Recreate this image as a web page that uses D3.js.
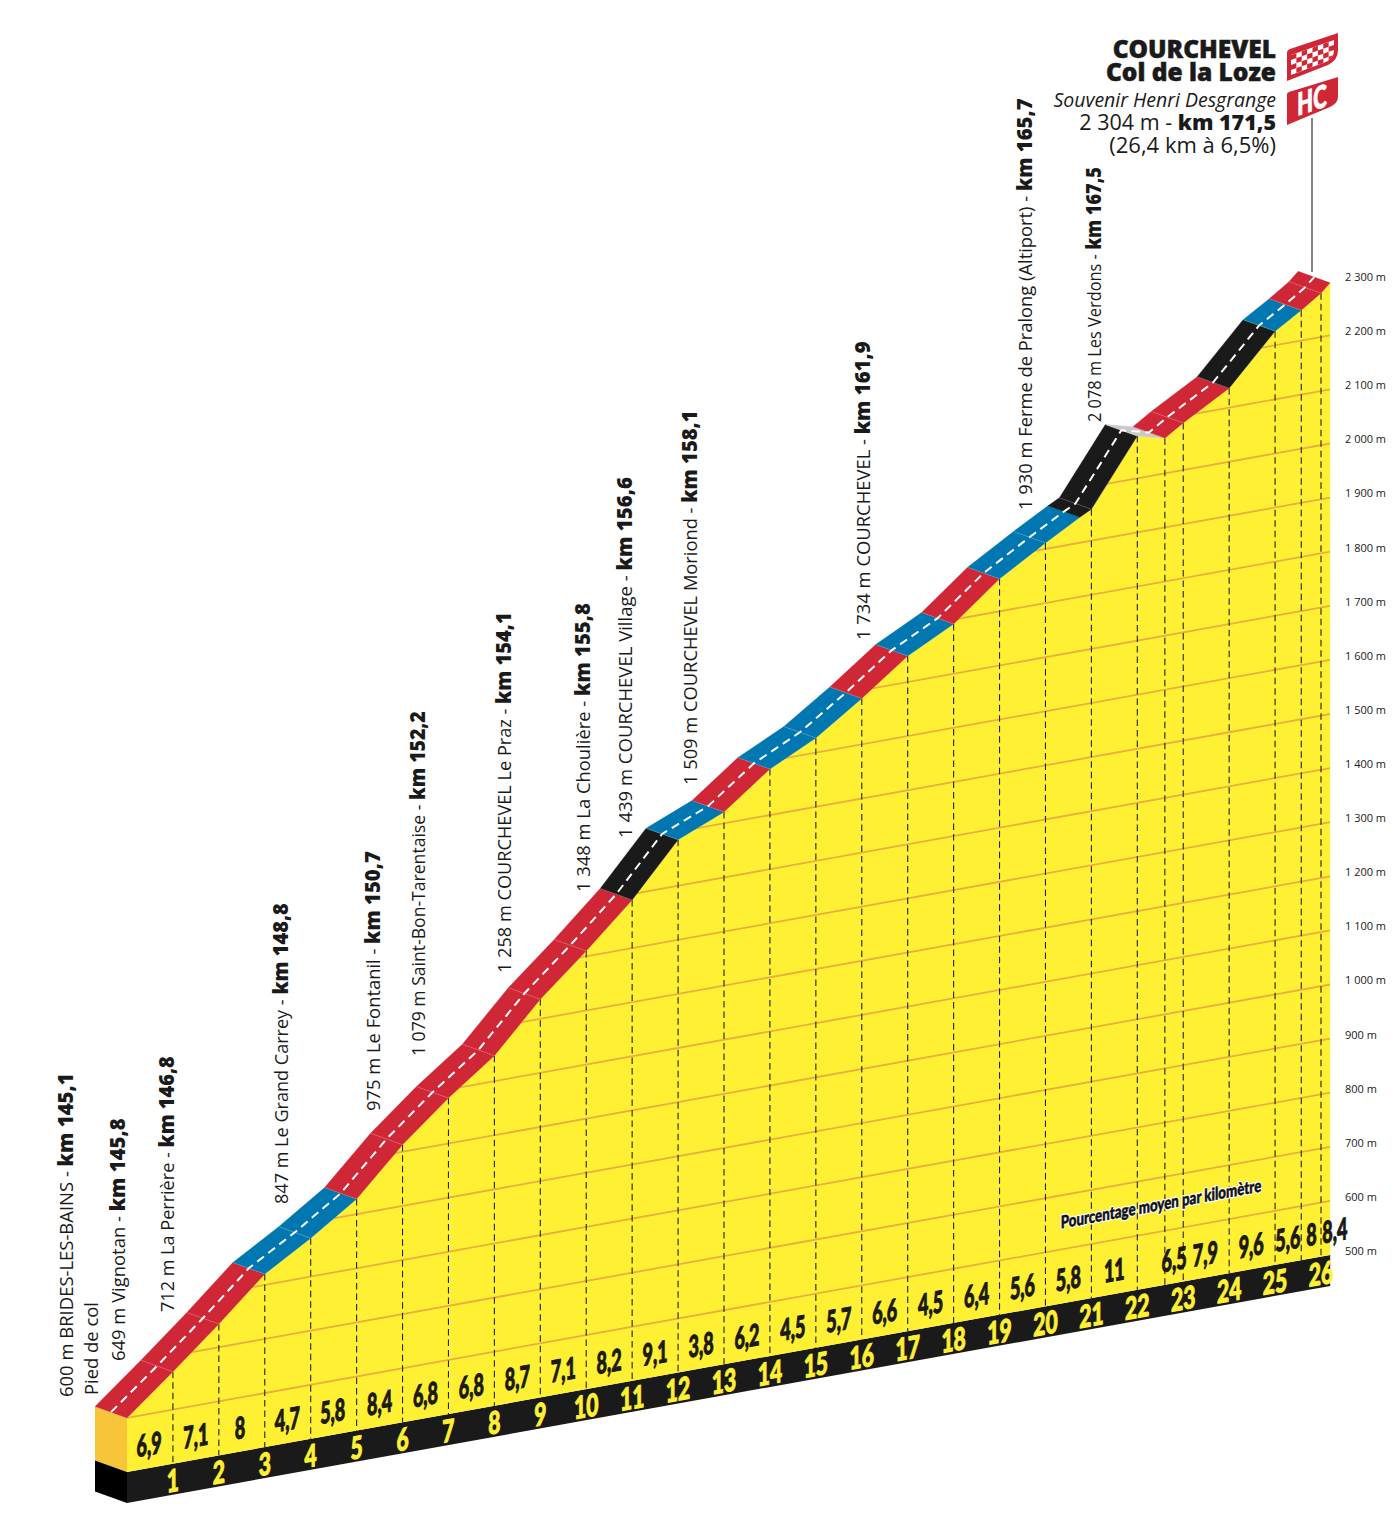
<!DOCTYPE html>
<html>
<head>
<meta charset="utf-8">
<script src="https://cdn.jsdelivr.net/npm/d3@7/dist/d3.min.js"></script>
<style>
  html, body { margin: 0; background: #fff; }
  text { font-family: "Open Sans", sans-serif; fill: #1a1a1a; white-space: pre; }
  .num { font-family: Lato, sans-serif; font-weight: 900; }
</style>
</head>
<body>
<div id="chart"></div>
<script>
// profile of the climb
var roadKm = [0, 1, 2, 3, 4, 5, 6, 7, 8, 9, 10, 11, 12, 13, 14, 15, 16, 17, 18, 19, 20, 20.75, 21, 22, 22.6, 23, 24, 25, 25.57, 26, 26.2];
var roadAlt = [600, 670, 743, 820, 871, 928, 1013, 1084, 1147, 1236, 1310, 1389, 1485, 1521, 1585, 1627, 1685, 1748, 1792, 1860, 1911, 1947, 1958, 2078, 2065, 2087, 2136, 2226, 2256, 2281, 2297];
// colour class of each stretch between two road points
var stretchClass = ['red', 'red', 'red', 'blue', 'blue', 'red', 'red', 'red', 'red', 'red', 'red', 'black', 'blue', 'red', 'blue', 'blue', 'red', 'blue', 'red', 'blue', 'blue', 'black', 'black', 'grey', 'red', 'red', 'black', 'blue', 'red', 'red'];

var kmTicks = [1, 2, 3, 4, 5, 6, 7, 8, 9, 10, 11, 12, 13, 14, 15, 16, 17, 18, 19, 20, 21, 22, 23, 24, 25, 26];
var dashKm = [1, 2, 3, 4, 5, 6, 7, 8, 9, 10, 11, 12, 13, 14, 15, 16, 17, 18, 19, 20, 21, 22, 22.6, 23, 24, 25, 25.57, 26];

var gradeKm = [0.48, 1.5, 2.46, 3.49, 4.48, 5.5, 6.5, 7.5, 8.5, 9.5, 10.5, 11.5, 12.5, 13.5, 14.5, 15.5, 16.5, 17.5, 18.5, 19.5, 20.5, 21.5, 22.8, 23.48, 24.48, 25.28, 25.79, 26.3];
var gradeText = ['6,9', '7,1', '8', '4,7', '5,8', '8,4', '6,8', '6,8', '8,7', '7,1', '8,2', '9,1', '3,8', '6,2', '4,5', '5,7', '6,6', '4,5', '6,4', '5,6', '5,8', '11', '6,5', '7,9', '9,6', '5,6', '8', '8,4'];

var altTicks = [500, 600, 700, 800, 900, 1000, 1100, 1200, 1300, 1400, 1500, 1600, 1700, 1800, 1900, 2000, 2100, 2200, 2300];
var altTickText = ['500 m', '600 m', '700 m', '800 m', '900 m', '1 000 m', '1 100 m', '1 200 m', '1 300 m', '1 400 m', '1 500 m', '1 600 m', '1 700 m', '1 800 m', '1 900 m', '2 000 m', '2 100 m', '2 200 m', '2 300 m'];

var placeText = ['600 m BRIDES-LES-BAINS - ', 'Pied de col', '649 m Vignotan - ', '712 m La Perrière - ', '847 m Le Grand Carrey - ', '975 m Le Fontanil - ', '1 079 m Saint-Bon-Tarentaise - ', '1 258 m COURCHEVEL Le Praz - ', '1 348 m La Choulière - ', '1 439 m COURCHEVEL Village - ', '1 509 m COURCHEVEL Moriond - ', '1 734 m COURCHEVEL - ', '1 930 m Ferme de Pralong (Altiport) - ', '2 078 m Les Verdons - '];
var placeKmText = ['km 145,1', '', 'km 145,8', 'km 146,8', 'km 148,8', 'km 150,7', 'km 152,2', 'km 154,1', 'km 155,8', 'km 156,6', 'km 158,1', 'km 161,9', 'km 165,7', 'km 167,5'];

// where the upright labels sit: baseline x, bottom y, top y
var placeLayout = [[73, 1397, 1073], [98, 1395, 1302], [125, 1361, 1118], [174, 1312, 1056], [288, 1204, 903], [380, 1111, 851], [425, 1056, 711], [511, 973, 612], [590, 892, 603], [632, 838, 477], [697, 785, 410], [870, 640, 341], [1032, 510, 98], [1101, 422, 167]];

var w = 1400, h = 1518;
var colors = { red: '#cf2735', blue: '#0077b0', black: '#1a1a1a', grey: '#c9c9c9' };
var depth = [-32, -11.5];   // road width drawn in perspective
var endKm = roadKm[roadKm.length - 1];

var svg = d3.select('#chart').append('svg')
  .attr('width', w)
  .attr('height', h)
  .style('display', 'block');

var x = d3.scaleLinear().domain([0, 26]).range([127, 1321]);
// the foot of the profile climbs to the right
var foot = d3.scaleLinear().domain([x(0), x(endKm)]).range([1472, 1255]);
var lift = d3.scaleLinear().domain([500, 2300]).range([0, 973.8]);

function px(km) { return x(km); }
function py(km, alt) { return foot(x(km)) - lift(alt); }
function alongFoot(km, dy) { return foot(x(km)) + dy; }

var poly = d3.line();
var pts = roadKm.map(function (k, i) { return [px(k), py(k, roadAlt[i])]; });
var xStart = px(0), xEnd = px(endKm);

// base block
svg.append('path')
  .attr('d', poly([[xStart + depth[0], foot(xStart) - 54 + depth[1]], [xStart, foot(xStart) - 54], [xStart, foot(xStart)], [xStart + depth[0], foot(xStart) + depth[1]]]) + 'Z')
  .attr('fill', '#f6c53a');
svg.append('path')
  .attr('d', poly([[xStart + depth[0], foot(xStart) + depth[1]], [xStart, foot(xStart)], [xStart, foot(xStart) + 31], [xStart + depth[0], foot(xStart) + 31 + depth[1]]]) + 'Z')
  .attr('fill', '#000');
svg.append('path')
  .attr('d', poly([[xStart, foot(xStart)], [xEnd, foot(xEnd)], [xEnd, foot(xEnd) + 31], [xStart, foot(xStart) + 31]]) + 'Z')
  .attr('fill', colors.black);

// yellow face
var facePts = pts.concat([[xEnd, foot(xEnd)], [xStart, foot(xStart)]]);
svg.append('path').attr('d', poly(facePts) + 'Z').attr('fill', '#fff033');
svg.append('clipPath').attr('id', 'face').append('path').attr('d', poly(facePts) + 'Z');

// altitude lines
svg.append('g').attr('clip-path', 'url(#face)')
  .selectAll('line').data(altTicks.slice(1)).enter().append('line')
  .attr('x1', xStart)
  .attr('x2', xEnd)
  .attr('y1', function (a) { return foot(xStart) - lift(a); })
  .attr('y2', function (a) { return foot(xEnd) - lift(a); })
  .attr('stroke', '#ebae3c')
  .attr('stroke-width', 1.8);

// km dashes
svg.append('g').selectAll('line').data(dashKm).enter().append('line')
  .attr('x1', px)
  .attr('x2', px)
  .attr('y1', function (k) { return py(k, roadAlt[roadKm.indexOf(k)]); })
  .attr('y2', function (k) { return foot(x(k)); })
  .attr('stroke', '#222')
  .attr('stroke-width', 1.1)
  .attr('stroke-dasharray', '6.5,4');

// road surface
svg.append('g').selectAll('path').data(stretchClass).enter().append('path')
  .attr('d', function (c, i) {
    var a = pts[i], b = pts[i + 1];
    return poly([a, b, [b[0] + depth[0], b[1] + depth[1]], [a[0] + depth[0], a[1] + depth[1]]]) + 'Z';
  })
  .attr('fill', function (c) { return colors[c]; })
  .attr('stroke', function (c) { return colors[c]; })
  .attr('stroke-width', 0.3);

// faint marks across the road at each km
svg.append('g').selectAll('line').data(dashKm).enter().append('line')
  .attr('x1', px)
  .attr('y1', function (k) { return py(k, roadAlt[roadKm.indexOf(k)]); })
  .attr('x2', function (k) { return px(k) + depth[0]; })
  .attr('y2', function (k) { return py(k, roadAlt[roadKm.indexOf(k)]) + depth[1]; })
  .attr('stroke', '#fff')
  .attr('stroke-opacity', 0.25)
  .attr('stroke-width', 0.7);

// centre line
svg.append('path')
  .attr('d', poly(pts.map(function (p) { return [p[0] + depth[0] / 2, p[1] + depth[1] / 2]; })))
  .attr('fill', 'none')
  .attr('stroke', '#fff')
  .attr('stroke-width', 2)
  .attr('stroke-dasharray', '8.5,5.5');

// numbers on the black band
svg.append('g').selectAll('text').data(kmTicks).enter().append('text')
  .attr('class', 'num')
  .attr('transform', function (k) { return 'translate(' + px(k) + ',' + alongFoot(k, 28) + ') skewY(-10) scale(0.68,1)'; })
  .attr('text-anchor', 'middle')
  .attr('font-size', 31)
  .attr('stroke', '#fff033')
  .attr('stroke-width', 1)
  .style('fill', '#fff033')
  .text(function (k) { return k; });

// gradient of each km
svg.append('g').selectAll('text').data(gradeText).enter().append('text')
  .attr('class', 'num')
  .attr('transform', function (t, i) { return 'translate(' + px(gradeKm[i]) + ',' + alongFoot(gradeKm[i], -13) + ') skewY(-10) scale(0.6,1)'; })
  .attr('text-anchor', 'middle')
  .attr('font-size', 30)
  .attr('stroke', '#1a1a1a')
  .attr('stroke-width', 1)
  .text(function (t) { return t; });

// white halo first, then the fattened black text on top
['#fff', '#111'].forEach(function (c, i) {
  svg.append('text')
    .attr('class', 'num')
    .attr('transform', 'translate(1161,1210) skewY(-10.5) scale(0.76,1)')
    .attr('text-anchor', 'middle')
    .attr('font-size', 17.5)
    .attr('stroke', c)
    .attr('stroke-width', i ? 0.5 : 3)
    .attr('stroke-linejoin', 'round')
    .style('fill', c)
    .text('Pourcentage moyen par kilomètre');
});

// altitude scale on the right
var altAxis = d3.scaleLinear().domain([500, 2300]).range([1251, 277]);
var axisG = svg.append('g')
  .attr('transform', 'translate(1345,0)')
  .call(d3.axisRight(altAxis).tickValues(altTicks).tickSize(0).tickPadding(0)
    .tickFormat(function (a) { return altTickText[altTicks.indexOf(a)]; }));
axisG.select('.domain').remove();
axisG.selectAll('text')
  .style('font-family', '"Open Sans", sans-serif')
  .style('font-size', '11px')
  .style('fill', '#1a1a1a');

// place names, stretched to the length they have in the picture
placeText.forEach(function (t, i) {
  var l = placeLayout[i];
  var label = svg.append('text').attr('font-size', 19);
  label.append('tspan').text(t);
  if (placeKmText[i]) label.append('tspan').attr('font-size', 21).attr('font-weight', 800).text(placeKmText[i]);
  var sx = (l[1] - l[2]) / label.node().getComputedTextLength();
  label.attr('transform', 'translate(' + l[0] + ',' + l[1] + ') rotate(-90) scale(' + sx + ',1)');
});

// summit text
var summit = svg.append('g').attr('text-anchor', 'end');
summit.append('text').attr('x', 1276).attr('y', 58).attr('font-size', 24.5).attr('font-weight', 800).attr('stroke', '#1a1a1a').attr('stroke-width', 0.5).text('COURCHEVEL');
summit.append('text').attr('x', 1276).attr('y', 81).attr('font-size', 24.5).attr('font-weight', 800).attr('stroke', '#1a1a1a').attr('stroke-width', 0.5).text('Col de la Loze');
summit.append('text').attr('x', 1276).attr('y', 107).attr('font-size', 19.5).attr('font-style', 'italic').text('Souvenir Henri Desgrange');
var alt = summit.append('text').attr('x', 1276).attr('y', 130).attr('font-size', 21.5);
alt.append('tspan').text('2 304 m - ');
alt.append('tspan').attr('font-weight', 800).text('km 171,5');
summit.append('text').attr('x', 1276).attr('y', 153).attr('font-size', 22).text('(26,4 km à 6,5%)');

// pole and flags
svg.append('line')
  .attr('x1', 1312).attr('x2', 1312).attr('y1', 118).attr('y2', 272)
  .attr('stroke', '#333').attr('stroke-width', 1.2);

var flagTop = 'M1287,53Q1287,50 1290,49L1338,33L1338,50Q1338,60 1328,65L1287,81Z';
svg.append('path').attr('d', flagTop).attr('fill', colors.red);
var innerFlag = 'M1291,55L1334,40L1334,50Q1334,58 1326,62L1291,75Z';
svg.append('clipPath').attr('id', 'flagClip').append('path').attr('d', innerFlag);
svg.append('path').attr('d', innerFlag).attr('fill', '#fff');
var checks = svg.append('g').attr('clip-path', 'url(#flagClip)');
d3.range(4).forEach(function (row) {
  d3.range(9).forEach(function (col) {
    if ((row + col) % 2) return;
    var cw = 43 / 8, ch = 5;
    function corner(u, v) { return [1291 + u * cw, 55 - u * cw * 0.35 + v * ch]; }
    checks.append('path')
      .attr('d', poly([corner(col, row), corner(col + 1, row), corner(col + 1, row + 1), corner(col, row + 1)]) + 'Z')
      .attr('fill', colors.red);
  });
});

svg.append('path')
  .attr('d', 'M1287,94Q1287,93 1289,92L1338,77L1338,97Q1338,103 1330,107L1287,125Z')
  .attr('fill', colors.red);
svg.append('text')
  .attr('class', 'num')
  .attr('transform', 'translate(1312,111) skewY(-18) scale(0.66,1)')
  .attr('text-anchor', 'middle')
  .attr('font-size', 31)
  .attr('stroke', '#fff')
  .attr('stroke-width', 1)
  .style('fill', '#fff')
  .text('HC');
</script>
</body>
</html>
